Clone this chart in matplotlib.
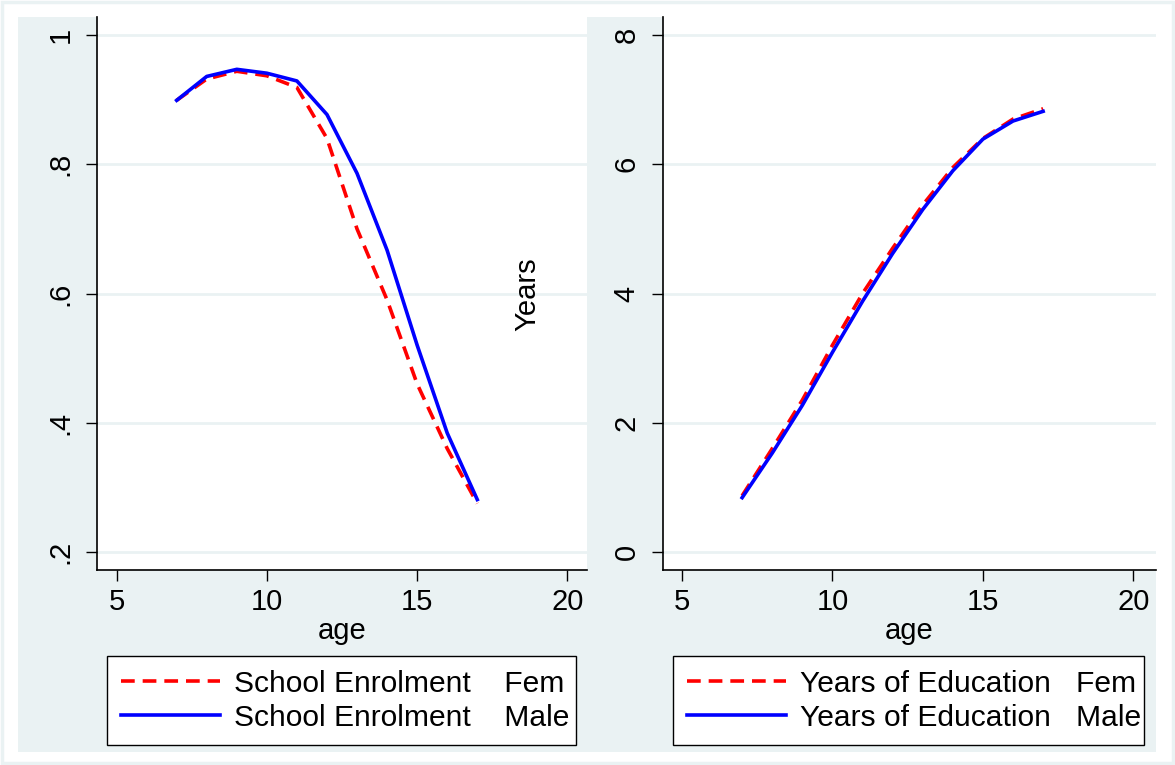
import matplotlib.pyplot as plt
from matplotlib.patches import Rectangle

age = [7, 8, 9, 10, 11, 12, 13, 14, 15, 16, 17]

enrol_fem = [0.899, 0.932, 0.944, 0.937, 0.919, 0.840, 0.700, 0.590, 0.460, 0.360, 0.275]
enrol_male = [0.899, 0.936, 0.947, 0.941, 0.929, 0.877, 0.786, 0.667, 0.520, 0.384, 0.281]

educ_fem = [0.87, 1.60, 2.35, 3.20, 4.00, 4.70, 5.37, 5.95, 6.40, 6.70, 6.86]
educ_male = [0.84, 1.53, 2.27, 3.09, 3.88, 4.62, 5.30, 5.90, 6.39, 6.67, 6.82]

xticks = [5, 10, 15, 20]
enrol_yticks = [0.2, 0.4, 0.6, 0.8, 1.0]
enrol_ylabels = [".2", ".4", ".6", ".8", "1"]
educ_yticks = [0, 2, 4, 6, 8]
educ_ylabels = ["0", "2", "4", "6", "8"]

enrol_labels = ["School Enrolment    Fem", "School Enrolment    Male"]
educ_labels = ["Years of Education   Fem", "Years of Education   Male"]

BG = "#EAF2F3"
W, H = 1175, 765

plt.rcParams["font.family"] = ["Liberation Sans", "DejaVu Sans"]
plt.rcParams["font.size"] = 21

fig = plt.figure(figsize=(11.75, 7.65), dpi=100, facecolor="white")


def px(x0, y0, x1, y1):
    # pixel box (from top-left) -> figure fraction rect
    return [x0 / W, 1 - y1 / H, (x1 - x0) / W, (y1 - y0) / H]


fig.add_artist(Rectangle((0.0015, 0.002), 0.997, 0.996, transform=fig.transFigure,
                         fill=False, edgecolor=BG, lw=2.5, zorder=-10))
fig.add_artist(Rectangle((18 / W, 1 - 752 / H), (1156 - 18) / W, (752 - 17) / H,
                         transform=fig.transFigure, facecolor=BG, edgecolor="none", zorder=-10))


def panel(rect, fem, male, yticks, ylabels, ylim, xlim, labels, leg_box):
    ax = fig.add_axes(rect)
    ax.set_facecolor("white")
    for y in yticks:
        ax.axhline(y, color=BG, lw=2, zorder=1)
    ax.plot(age, fem, color="red", lw=2.6, dashes=(3.8, 2.2), zorder=3)
    ax.plot(age, male, color="blue", lw=2.6, zorder=4)
    ax.set_xlim(xlim)
    ax.set_ylim(ylim)
    ax.set_xticks(xticks)
    ax.set_yticks(yticks)
    ax.set_yticklabels(ylabels, rotation=90, va="center")
    ax.spines["top"].set_visible(False)
    ax.spines["right"].set_visible(False)
    ax.spines["left"].set_linewidth(1.2)
    ax.spines["bottom"].set_linewidth(1.2)
    ax.tick_params(axis="x", direction="out", length=8, width=1, pad=5)
    ax.tick_params(axis="y", direction="out", length=8, width=1, pad=8)
    ax.set_xlabel("age", labelpad=1)
    h = ax.get_lines()
    x0, y0, x1, y1 = leg_box
    leg = ax.legend(h[-2:], labels, loc="upper left", mode="expand",
                    bbox_to_anchor=(x0 / W, 1 - y1 / H, (x1 - x0) / W, (y1 - y0) / H),
                    bbox_transform=fig.transFigure, borderaxespad=0, fancybox=False,
                    edgecolor="black", framealpha=1, handlelength=3.3, handletextpad=0.47,
                    borderpad=0.45, labelspacing=0.2, fontsize=21.6)
    leg.get_frame().set_linewidth(1)
    return ax


ax1 = panel(px(97, 17, 587, 570), enrol_fem, enrol_male, enrol_yticks, enrol_ylabels,
            (0.172, 1.028), (4.35, 20.65), enrol_labels, (107, 656, 576, 742))
ax2 = panel(px(663, 17, 1156, 570), educ_fem, educ_male, educ_yticks, educ_ylabels,
            (-0.28, 8.28), (4.37, 20.75), educ_labels, (673, 656, 1144, 742))

fig.text(527 / W, 1 - 294 / H, "Years", rotation=90, ha="center", va="center", fontsize=21)

plt.savefig("out.png", dpi=100, facecolor="white")
